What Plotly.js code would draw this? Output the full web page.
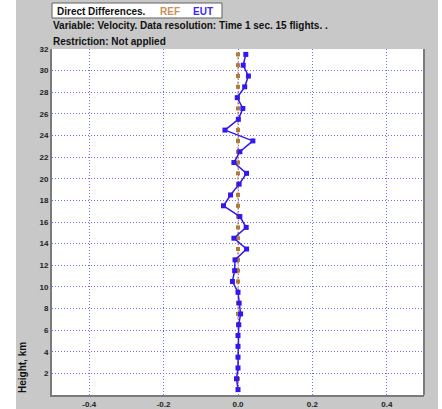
<!DOCTYPE html>
<html>
<head>
<meta charset="utf-8">
<script src="https://cdn.plot.ly/plotly-3.0.1.min.js"></script>
<style>html,body{margin:0;padding:0;background:#fff;}#chart{width:442px;height:409px;}</style>
</head>
<body>
<div id="chart"></div>
<script>
// Heights (km) of the data levels
const heights = [0.5,1.5,2.5,3.5,4.5,5.5,6.5,7.5,8.5,9.5,10.5,11.5,12.5,13.5,14.5,15.5,
                 16.5,17.5,18.5,19.5,20.5,21.5,22.5,23.5,24.5,25.5,26.5,27.5,28.5,29.5,30.5,31.5];
// REF direct differences (reference against itself)
const refValues = [0,0,0,0,0,0,0,0,0,0,0,0,0,0,0,0,0,0,0,0,0,0,0,0,0,0,0,0,0,0,0,0];
// EUT direct differences
const eutValues = [0.0,-0.004,0.0,0.0,0.0,0.0,0.002,0.007,0.003,0.0,-0.015,-0.009,-0.008,0.023,-0.011,0.022,
                   0.005,-0.039,-0.020,0.003,0.023,-0.011,0.005,0.040,-0.035,0.001,0.013,-0.002,0.018,0.028,0.014,0.021];
const xTickVals = [-0.4,-0.2,0.0,0.2,0.4];
const xTickText = ['-0.4','-0.2','0.0','0.2','0.4'];
const yTickVals = [2,4,6,8,10,12,14,16,18,20,22,24,26,28,30,32];

const W = 442, H = 409, L = 52, R = 424, T = 49, B = 395;
const px = x => (x - L) / (R - L);
const py = y => (B - y) / (B - T);

const FONT = 'Liberation Sans, Arial, sans-serif';

const traces = [
  {x: refValues, y: heights, type: 'scatter', mode: 'lines+markers', name: 'REF',
   line: {color: '#b07a3c', width: 1, dash: '3px,2px'},
   marker: {symbol: 'square', size: 4, color: '#b07a3c'}},
  {x: eutValues, y: heights, type: 'scatter', mode: 'lines+markers', name: 'EUT',
   line: {color: '#3318ee', width: 1.5},
   marker: {symbol: 'square', size: 5, color: '#3318ee'}}
];

const gridStyle = {gridcolor: '#7070ff', gridwidth: 1, griddash: '1px,2px'};

const layout = {
  width: W, height: H,
  margin: {l: L, r: W - R, t: T, b: H - B, pad: 0},
  paper_bgcolor: '#c8c8c8',
  plot_bgcolor: '#ffffff',
  showlegend: false,
  font: {family: FONT, size: 8, color: '#222'},
  xaxis: Object.assign({
    range: [-0.5, 0.5], tickvals: xTickVals, ticktext: xTickText,
    showgrid: true, zeroline: false, showline: true, linecolor: '#7a7a7a', linewidth: 2,
    ticks: '', tickfont: {family: FONT, size: 8, color: '#222', weight: 'bold'}, fixedrange: true
  }, gridStyle),
  yaxis: Object.assign({
    range: [0, 32], tickvals: yTickVals,
    showgrid: true, zeroline: false, showline: true, linecolor: '#7a7a7a', linewidth: 2,
    ticks: '', tickfont: {family: FONT, size: 8, color: '#222', weight: 'bold'}, fixedrange: true
  }, gridStyle),
  shapes: [
    {type: 'rect', xref: 'paper', yref: 'paper', x0: px(0), x1: px(16), y0: py(H), y1: py(0),
     fillcolor: '#ffffff', line: {width: 0}, layer: 'above'},
    {type: 'rect', xref: 'paper', yref: 'paper', x0: px(438), x1: px(W), y0: py(H), y1: py(0),
     fillcolor: '#ffffff', line: {width: 0}, layer: 'above'},
    {type: 'line', xref: 'paper', yref: 'paper', x0: 1, x1: 1, y0: 0, y1: 1,
     line: {color: '#7a7a7a', width: 2}, layer: 'above'},
    {type: 'rect', xref: 'paper', yref: 'paper', x0: px(52), x1: px(222), y0: py(18), y1: py(3),
     fillcolor: '#ffffff', line: {color: '#606060', width: 1}, layer: 'above'}
  ],
  annotations: [
    {text: 'Direct Differences.', xref: 'paper', yref: 'paper', x: px(55), y: py(11),
     xanchor: 'left', yanchor: 'middle', showarrow: false,
     font: {family: FONT, size: 10, color: '#111', weight: 'bold'}},
    {text: 'REF', xref: 'paper', yref: 'paper', x: px(158), y: py(11),
     xanchor: 'left', yanchor: 'middle', showarrow: false,
     font: {family: FONT, size: 10, color: '#c8925a', weight: 'bold'}},
    {text: 'EUT', xref: 'paper', yref: 'paper', x: px(191), y: py(11),
     xanchor: 'left', yanchor: 'middle', showarrow: false,
     font: {family: FONT, size: 10, color: '#3c28f0', weight: 'bold'}},
    {text: 'Variable: Velocity. Data resolution: Time 1 sec. 15 flights. .', xref: 'paper', yref: 'paper',
     x: px(51), y: py(26), xanchor: 'left', yanchor: 'middle', showarrow: false,
     font: {family: FONT, size: 10, color: '#111', weight: 'bold'}},
    {text: 'Restriction: Not applied', xref: 'paper', yref: 'paper',
     x: px(51), y: py(41), xanchor: 'left', yanchor: 'middle', showarrow: false,
     font: {family: FONT, size: 10, color: '#111', weight: 'bold'}},
    {text: 'Height, km', xref: 'paper', yref: 'paper', x: px(22), y: py(368), textangle: -90,
     xanchor: 'center', yanchor: 'middle', showarrow: false,
     font: {family: FONT, size: 10, color: '#111', weight: 'bold'}}
  ]
};

Plotly.newPlot('chart', traces, layout, {displayModeBar: false, staticPlot: true});
</script>
</body>
</html>
